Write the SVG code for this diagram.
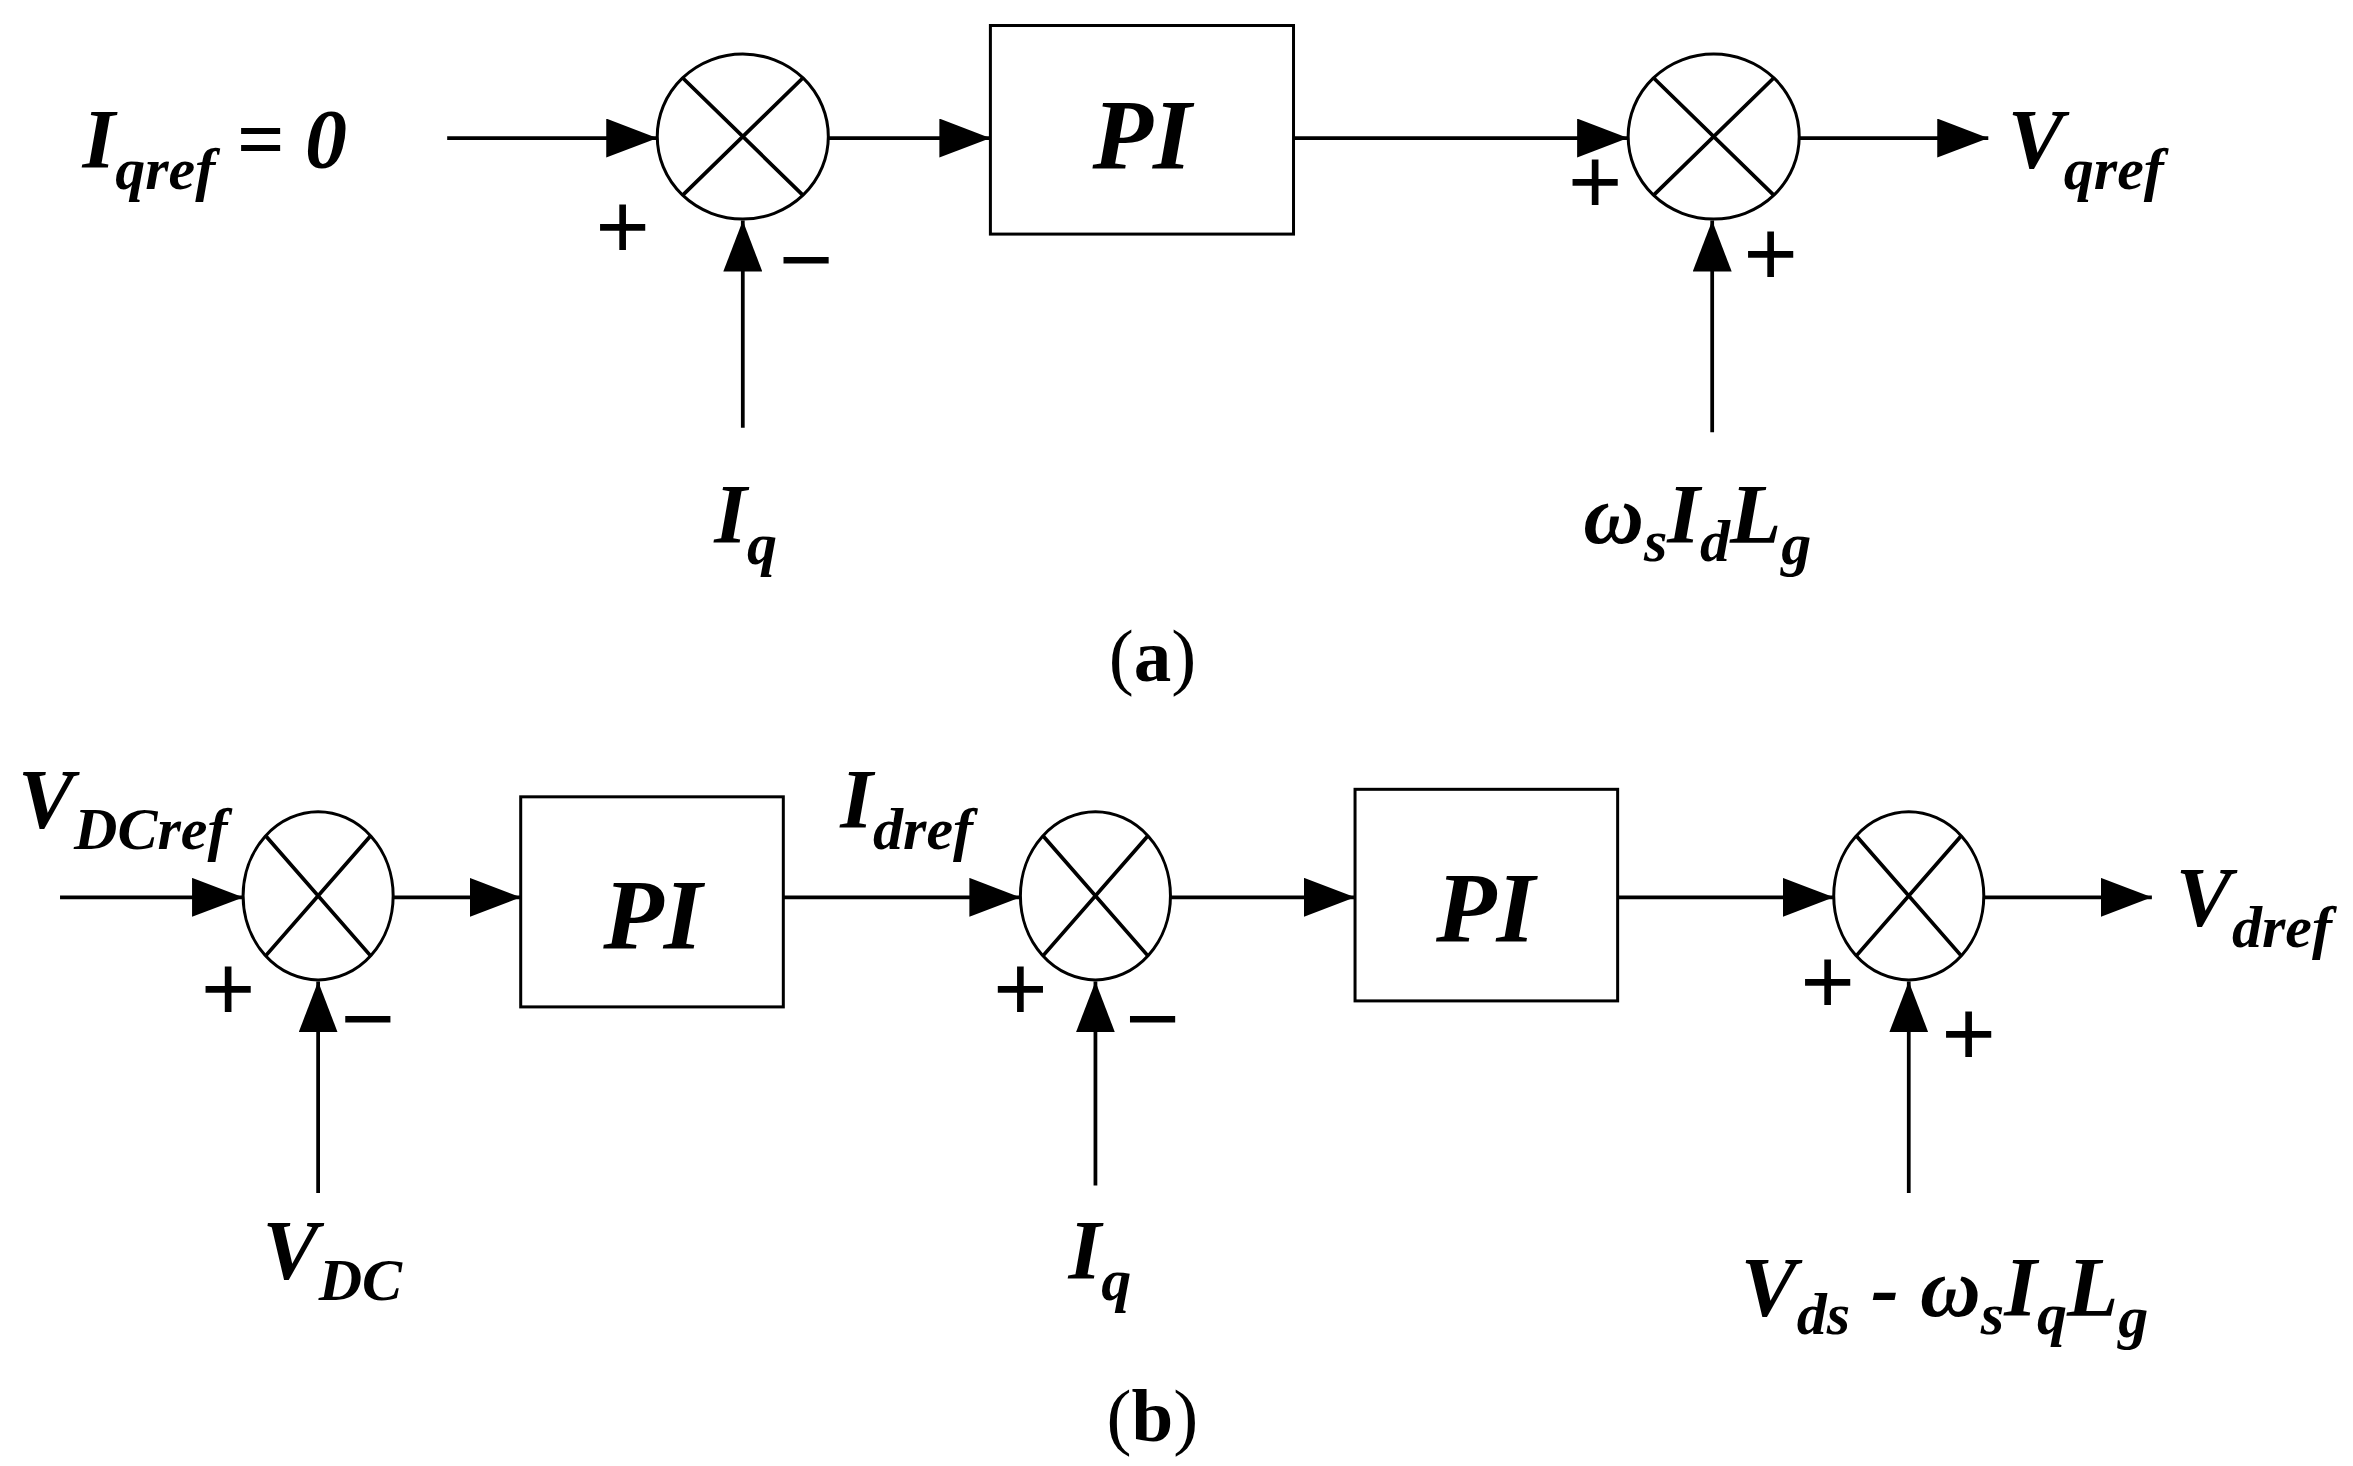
<svg xmlns="http://www.w3.org/2000/svg" width="2353" height="1466" viewBox="0 0 2353 1466">
<style>
.l{stroke:#000;stroke-width:2.5;fill:none}
.b{stroke:#000;stroke-width:2;fill:#fff}
.t{font-family:"Liberation Serif",serif;font-weight:bold;font-style:italic;fill:#000}
.s{font-family:"Liberation Sans",sans-serif;fill:#000;font-size:62px}
.c{font-family:"Liberation Serif",serif;fill:#000;font-size:50px}
</style>
<defs>
<marker id="A" markerWidth="34" markerHeight="26" refX="34" refY="13" orient="auto" markerUnits="userSpaceOnUse" viewBox="0 0 34 26"><path d="M0,0L34,13L0,26z"/></marker>
</defs>
<rect width="2353" height="1466" fill="#fff"/>
<g transform="scale(1.5006)">
<g id="connectors">
<line class="l" x1="298" y1="92" x2="438" y2="92" marker-end="url(#A)"/>
<line class="l" x1="552" y1="92" x2="660" y2="92" marker-end="url(#A)"/>
<line class="l" x1="862" y1="92" x2="1085" y2="92" marker-end="url(#A)"/>
<line class="l" x1="1199" y1="92" x2="1325" y2="92" marker-end="url(#A)"/>
<line class="l" x1="495" y1="285" x2="495" y2="147" marker-end="url(#A)"/>
<line class="l" x1="1141" y1="288" x2="1141" y2="147" marker-end="url(#A)"/>
<line class="l" x1="40" y1="598" x2="162" y2="598" marker-end="url(#A)"/>
<line class="l" x1="262" y1="598" x2="347" y2="598" marker-end="url(#A)"/>
<line class="l" x1="522" y1="598" x2="680" y2="598" marker-end="url(#A)"/>
<line class="l" x1="780" y1="598" x2="903" y2="598" marker-end="url(#A)"/>
<line class="l" x1="1078" y1="598" x2="1222" y2="598" marker-end="url(#A)"/>
<line class="l" x1="1322" y1="598" x2="1434" y2="598" marker-end="url(#A)"/>
<line class="l" x1="212" y1="795" x2="212" y2="654" marker-end="url(#A)"/>
<line class="l" x1="730" y1="790" x2="730" y2="654" marker-end="url(#A)"/>
<line class="l" x1="1272" y1="795" x2="1272" y2="654" marker-end="url(#A)"/>
</g>
<g id="sum1a"><ellipse class="b" cx="495" cy="91" rx="57" ry="55"/><path class="l" d="M455,52L535,130M535,52L455,130" stroke-width="2"/></g>
<g id="pi1a"><rect class="b" x="660" y="17" width="202" height="139"/><text class="t" x="761" y="112" font-size="66" text-anchor="middle">PI</text></g>
<g id="sum2a"><ellipse class="b" cx="1142" cy="91" rx="57" ry="55"/><path class="l" d="M1102,52L1182,130M1182,52L1102,130" stroke-width="2"/></g>
<g id="labels-a">
<text class="t" x="55" y="112" font-size="56">I<tspan font-size="40" dy="14">qref</tspan><tspan dy="-14"> = 0</tspan></text>
<text class="t" x="1338" y="112" font-size="56">V<tspan font-size="40" dy="14">qref</tspan></text>
<text class="t" x="476" y="362" font-size="56">I<tspan font-size="40" dy="14">q</tspan></text>
<text class="t" x="1055" y="362" font-size="56">ω<tspan font-size="40" dy="12">s</tspan><tspan dy="-12">I</tspan><tspan font-size="40" dy="12">d</tspan><tspan dy="-12">L</tspan><tspan font-size="40" dy="14">g</tspan></text>
<text class="s" x="415" y="172" text-anchor="middle">+</text>
<text class="s" x="537" y="194" text-anchor="middle">−</text>
<text class="s" x="1063" y="142" text-anchor="middle">+</text>
<text class="s" x="1180" y="190" text-anchor="middle">+</text>
<text class="c" x="768" y="454" text-anchor="middle">(<tspan font-weight="bold">a</tspan>)</text>
</g>
<g id="sum1b"><ellipse class="b" cx="212" cy="597" rx="50" ry="56"/><path class="l" d="M177,557L247,637M247,557L177,637" stroke-width="2"/></g>
<g id="pi1b"><rect class="b" x="347" y="531" width="175" height="140"/><text class="t" x="435" y="632" font-size="66" text-anchor="middle">PI</text></g>
<g id="sum2b"><ellipse class="b" cx="730" cy="597" rx="50" ry="56"/><path class="l" d="M695,557L765,637M765,557L695,637" stroke-width="2"/></g>
<g id="pi2b"><rect class="b" x="903" y="526" width="175" height="141"/><text class="t" x="990" y="627" font-size="66" text-anchor="middle">PI</text></g>
<g id="sum3b"><ellipse class="b" cx="1272" cy="597" rx="50" ry="56"/><path class="l" d="M1237,557L1307,637M1307,557L1237,637" stroke-width="2"/></g>
<g id="labels-b">
<text class="t" x="12" y="552" font-size="56">V<tspan font-size="40" dy="14">DCref</tspan></text>
<text class="t" x="560" y="552" font-size="56">I<tspan font-size="40" dy="14">dref</tspan></text>
<text class="t" x="1450" y="617" font-size="56">V<tspan font-size="40" dy="14">dref</tspan></text>
<text class="t" x="175" y="852" font-size="56">V<tspan font-size="40" dy="14">DC</tspan></text>
<text class="t" x="712" y="852" font-size="56">I<tspan font-size="40" dy="14">q</tspan></text>
<text class="t" x="1160" y="877" font-size="56">V<tspan font-size="40" dy="12">ds</tspan><tspan dy="-12"> - ω</tspan><tspan font-size="40" dy="12">s</tspan><tspan dy="-12">I</tspan><tspan font-size="40" dy="12">q</tspan><tspan dy="-12">L</tspan><tspan font-size="40" dy="14">g</tspan></text>
<text class="s" x="152" y="680" text-anchor="middle">+</text>
<text class="s" x="245" y="700" text-anchor="middle">−</text>
<text class="s" x="680" y="680" text-anchor="middle">+</text>
<text class="s" x="768" y="700" text-anchor="middle">−</text>
<text class="s" x="1218" y="675" text-anchor="middle">+</text>
<text class="s" x="1312" y="710" text-anchor="middle">+</text>
<text class="c" x="768" y="960" text-anchor="middle">(<tspan font-weight="bold">b</tspan>)</text>
</g>
</g>
</svg>
